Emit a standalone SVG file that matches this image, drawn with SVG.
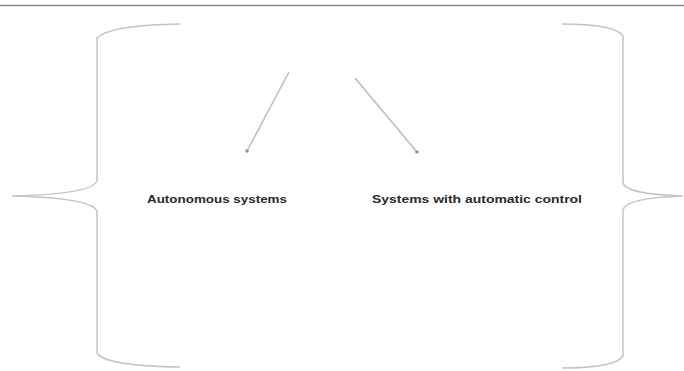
<svg xmlns="http://www.w3.org/2000/svg" width="684" height="371" viewBox="0 0 684 371">
<style>
.brace{fill:none;stroke:#c4c4c4;stroke-width:1.5}
.conn{stroke:#bcbcbc;stroke-width:1.5}
.lbl{font-family:"Liberation Sans",Arial,sans-serif;font-size:11.5px;font-weight:bold;fill:#2a2a2a}
</style>
<defs>
<marker id="dot" viewBox="0 0 4 4" refX="2" refY="2" markerWidth="4" markerHeight="4" markerUnits="userSpaceOnUse">
<circle cx="2" cy="2" r="1.8" fill="#9a9a9a"/>
</marker>
</defs>
<rect width="684" height="371" fill="#ffffff"/>
<line x1="0" y1="5.5" x2="684" y2="5.5" stroke="#8a8a8a" stroke-width="1.5"/>
<g id="brace-left">
<path class="brace" d="M180,24 Q110,25 97,38 L97,180 Q95,194 12,196 Q95,198 97,212 L97,353 Q105,366 180,367"/>
</g>
<g id="brace-right">
<path class="brace" d="M562,24 Q615,24 623,36 L623,183 Q625,194 683,196 Q625,198 623,210 L623,356 Q615,368 562,368"/>
</g>
<g id="connectors">
<line class="conn" x1="289" y1="72" x2="247" y2="151" marker-end="url(#dot)"/>
<line class="conn" x1="355" y1="78" x2="417" y2="152" marker-end="url(#dot)"/>
</g>
<g id="node-autonomous">
<text class="lbl" x="147" y="203" textLength="140" lengthAdjust="spacingAndGlyphs">Autonomous systems</text>
</g>
<g id="node-automatic">
<text class="lbl" x="372" y="203" textLength="210" lengthAdjust="spacingAndGlyphs">Systems with automatic control</text>
</g>
</svg>
